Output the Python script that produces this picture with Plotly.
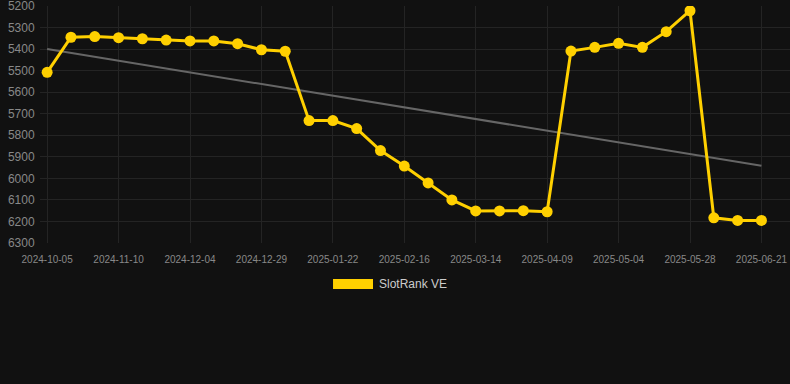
import plotly.graph_objects as go

dates = [
    "2024-10-05", "2024-10-17", "2024-10-29", "2024-11-10", "2024-11-18", "2024-11-26",
    "2024-12-04", "2024-12-12", "2024-12-21", "2024-12-29", "2025-01-06", "2025-01-14",
    "2025-01-22", "2025-01-30", "2025-02-08", "2025-02-16", "2025-02-25", "2025-03-05",
    "2025-03-14", "2025-03-22", "2025-03-31", "2025-04-09", "2025-04-17", "2025-04-26",
    "2025-05-04", "2025-05-12", "2025-05-20", "2025-05-28", "2025-06-05", "2025-06-13",
    "2025-06-21",
]
rank_values = [
    5508, 5345, 5342, 5347, 5352, 5358, 5362, 5362, 5375, 5403, 5410, 5732,
    5732, 5769, 5871, 5943, 6021, 6100, 6151, 6151, 6150, 6155, 5409, 5392,
    5373, 5392, 5319, 5222, 6183, 6195, 6195,
]
trend_dates = [dates[0], dates[-1]]
trend_values = [5400, 5941]
tick_dates = dates[::3]
y_ticks = [5200, 5300, 5400, 5500, 5600, 5700, 5800, 5900, 6000, 6100, 6200, 6300]
series_name = "SlotRank VE"

BG = "#111111"
GRID = "#242424"
YELLOW = "#FFD000"
FONT = "Liberation Sans, Arial, sans-serif"

fig = go.Figure()
fig.add_trace(go.Scatter(
    x=trend_dates, y=trend_values, mode="lines",
    line=dict(color="#666666", width=2), showlegend=False, hoverinfo="skip",
))
fig.add_trace(go.Scatter(
    x=dates, y=rank_values, mode="lines+markers", name=series_name,
    line=dict(color=YELLOW, width=3), marker=dict(color=YELLOW, size=11),
    showlegend=False,
))

fig.update_layout(
    width=790, height=384,
    margin=dict(l=40, r=0, t=6, b=141),
    paper_bgcolor=BG, plot_bgcolor=BG,
    font=dict(family=FONT, color="#888888"),
    xaxis=dict(
        type="category", categoryorder="array", categoryarray=dates,
        range=[-0.3, 31.2],
        tickvals=tick_dates, ticktext=tick_dates,
        showgrid=True, gridcolor=GRID, gridwidth=1,
        zeroline=False, showline=False,
        ticks="outside", ticklen=7, tickcolor=BG,
        tickfont=dict(size=10, color="#888888"),
        ticklabeloverflow="allow",
    ),
    yaxis=dict(
        range=[6300, 5200],
        tickvals=y_ticks,
        showgrid=True, gridcolor=GRID, gridwidth=1,
        zeroline=False, showline=False,
        ticks="outside", ticklen=2, tickcolor=BG,
        tickfont=dict(size=12, color="#888888"),
        ticklabeloverflow="allow",
    ),
    shapes=[dict(
        type="rect", xref="paper", yref="paper",
        x0=0.3907, x1=0.444, y0=-0.194, y1=-0.152,
        fillcolor=YELLOW, line=dict(width=0),
    )],
    annotations=[dict(
        text=series_name, xref="paper", yref="paper",
        x=0.4493, y=-0.173, xanchor="left", yanchor="middle",
        showarrow=False, font=dict(size=12, color="#cccccc", family=FONT),
    )],
)

fig.write_html(
    "out.html",
    config={"displayModeBar": False},
    post_script="document.body.style.margin='0';document.body.style.background='#111111';",
)
